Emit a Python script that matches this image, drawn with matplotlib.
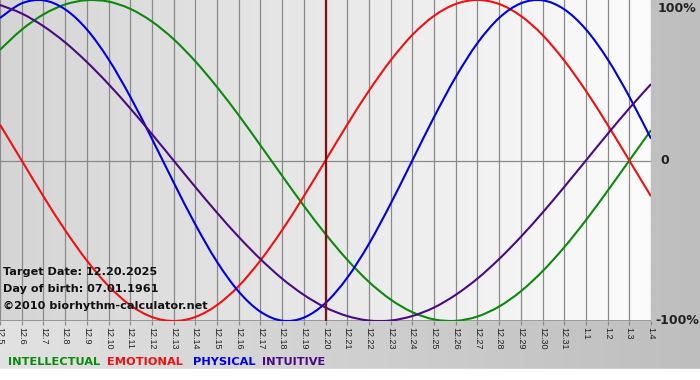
import numpy as np
import matplotlib
matplotlib.use("Agg")
import matplotlib.pyplot as plt
from matplotlib.colors import LinearSegmentedColormap
from matplotlib.path import Path
from matplotlib.patches import PathPatch

# --- Data (one value per day) ---
days = ["12.5", "12.6", "12.7", "12.8", "12.9", "12.10", "12.11", "12.12", "12.13",
        "12.14", "12.15", "12.16", "12.17", "12.18", "12.19", "12.20", "12.21",
        "12.22", "12.23", "12.24", "12.25", "12.26", "12.27", "12.28", "12.29",
        "12.30", "12.31", "1.1", "1.2", "1.3", "1.4"]
target_day = "12.20"

physical = [0.888, 0.979, 0.998, 0.942, 0.817, 0.631, 0.398, 0.136, -0.136, -0.398,
            -0.631, -0.817, -0.942, -0.998, -0.979, -0.888, -0.731, -0.520, -0.270, 0.0,
            0.270, 0.520, 0.731, 0.888, 0.979, 0.998, 0.942, 0.817, 0.631, 0.398, 0.136]
emotional = [0.223, 0.0, -0.223, -0.434, -0.623, -0.782, -0.901, -0.975, -1.0, -0.975,
             -0.901, -0.782, -0.623, -0.434, -0.223, 0.0, 0.223, 0.434, 0.623, 0.782,
             0.901, 0.975, 1.0, 0.975, 0.901, 0.782, 0.623, 0.434, 0.223, 0.0, -0.223]
intellectual = [0.690, 0.815, 0.910, 0.972, 0.999, 0.990, 0.945, 0.866, 0.756, 0.618,
                0.458, 0.282, 0.095, -0.095, -0.282, -0.458, -0.618, -0.756, -0.866, -0.945,
                -0.990, -0.999, -0.972, -0.910, -0.815, -0.690, -0.541, -0.372, -0.189, 0.0, 0.189]
intuitive = [0.969, 0.916, 0.837, 0.736, 0.614, 0.476, 0.325, 0.165, 0.0, -0.165,
             -0.325, -0.476, -0.614, -0.736, -0.837, -0.916, -0.969, -0.997, -0.997, -0.969,
             -0.916, -0.837, -0.736, -0.614, -0.476, -0.325, -0.165, 0.0, 0.165, 0.325, 0.476]

info_lines = ["Target Date: 12.20.2025", "Day of birth: 07.01.1961",
              "\u00a92010 biorhythm-calculator.net"]
legend_words = ["INTELLECTUAL", "EMOTIONAL", "PHYSICAL", "INTUITIVE"]
colors = ["#0a8a0a", "#ee1111", "#0000dd", "#4b0a82"]


def smooth_path(xs, ys):
    # catmull-rom style bezier through the given points
    pts = np.column_stack([xs, ys]).astype(float)
    ext = np.vstack([pts[0], pts, pts[-1]])
    verts = [pts[0]]
    codes = [Path.MOVETO]
    for i in range(len(pts) - 1):
        p0, p1, p2, p3 = ext[i], ext[i + 1], ext[i + 2], ext[i + 3]
        verts += [p1 + (p2 - p0) / 6, p2 - (p3 - p1) / 6, p2]
        codes += [Path.CURVE4] * 3
    return Path(verts, codes)


W, H = 700, 380
fig = plt.figure(figsize=(W / 100, H / 100), dpi=100)

# --- outer background gradient ---
bg = fig.add_axes([0, 0, 1, 1], zorder=-10)
bg_cmap = LinearSegmentedColormap.from_list("bg", ["#e2e2e2", "#bebebe"])
bg.imshow(np.linspace(0, 1, 256)[None, :], cmap=bg_cmap, aspect="auto",
          extent=[0, W, 11, H])
bg.axhspan(0, 11, color="white")
bg.set_xlim(0, W)
bg.set_ylim(0, H)
bg.axis("off")

# --- main plot ---
ax = fig.add_axes([0, (H - 321) / H, 651 / W, 321 / H])
x = np.arange(len(days))
ax.set_xlim(0, len(days) - 1)
ax.set_ylim(-1, 1)

plot_cmap = LinearSegmentedColormap.from_list("pl", ["#d5d5d5", "#fcfcfc"])
ax.imshow(np.linspace(0, 1, 256)[None, :], cmap=plot_cmap, aspect="auto",
          extent=[0, len(days) - 1, -1, 1], zorder=0)

for xi in x:
    ax.axvline(xi, color="#8a8a8a", lw=0.9, zorder=1)
ax.axhline(0, color="#8a8a8a", lw=0.9, zorder=1)
ax.axhline(-1, color="#8a8a8a", lw=1.2, zorder=1)

for series, col in zip([intellectual, emotional, physical, intuitive], colors):
    ax.add_patch(PathPatch(smooth_path(x, series), facecolor="none",
                           edgecolor=col, lw=1.5, zorder=3))

ax.axvline(days.index(target_day), color="#7a1010", lw=1.6, zorder=4)

for s in ax.spines.values():
    s.set_visible(False)
ax.set_yticks([])
ax.set_xticks(x)
ax.set_xticklabels(days, rotation=270, fontsize=6.5, family="Liberation Sans",
                   color="#222222")
ax.tick_params(axis="x", length=3, width=0.9, color="#8a8a8a", pad=1.5)

# right-side percentage labels
ax.text(1.0 + 7 / 651, 0.95, "100%", transform=ax.get_yaxis_transform(),
        ha="left", va="center", fontsize=9, fontweight="bold", color="#222222")
ax.text(1.0 + 9 / 651, 0, "0", transform=ax.get_yaxis_transform(),
        ha="left", va="center", fontsize=9, fontweight="bold", color="#222222")
fig.text(699 / W, 1 - 321 / H, "-100%", ha="right", va="center",
         fontsize=9, fontweight="bold", color="#222222")

# info text
for i, line in enumerate(info_lines):
    fig.text(3 / W, 1 - (272 + i * 17) / H, line, ha="left", va="center",
             fontsize=8.1, fontweight="bold", color="#111111")

# legend
legend_x = [8, 107, 193, 262]
for word, col, lx in zip(legend_words, colors, legend_x):
    fig.text(lx / W, 1 - 362 / H, word, ha="left", va="center",
             fontsize=8.2, fontweight="bold", color=col)

fig.savefig("out.png", dpi=100)
